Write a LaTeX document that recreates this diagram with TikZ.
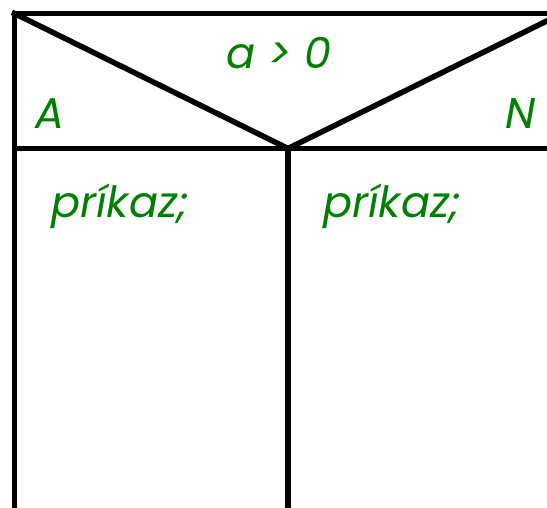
\documentclass[tikz,border=0pt]{standalone}
\usepackage{fontspec}
\setmainfont{Poppins}
\usetikzlibrary{positioning}
\definecolor{nsgreen}{RGB}{0,128,0}
\tikzset{
  ramec/.style={line width=5.5pt,line cap=rect},
  popis/.style={text=nsgreen,font=\fontsize{43}{48}\selectfont\itshape,inner sep=0pt}
}

\begin{document}
\begin{tikzpicture}[x=1pt,y=-1pt]
  \useasboundingbox (0,0) rectangle (547,508);
  \clip (0,0) rectangle (547,508);
  % vonkajsi ramec a podmienka
  \coordinate (lh) at (14.5,13.5); \coordinate (ph) at (562,13.5);
  \coordinate (vrch) at (288,148.5);
  \coordinate (ld) at (14.5,530); \coordinate (pd) at (562,530);
  \draw[ramec] (ld) -- (lh) -- (ph) -- (pd);
  \draw[ramec] (14.5,148.5) -- (562,148.5);
  \draw[ramec] (lh) -- (vrch) -- (ph);
  \draw[ramec] (vrch) -- (288,530);
  % texty
  \node[popis,anchor=base] (podm) at (279,69) {a > 0};
  \node[popis,anchor=base west] (ano) at (35,129) {A};
  \node[popis,anchor=base east] (nie) at (536,129) {N};
  \node[popis,anchor=base west] (prik1) at (51,218) {príkaz;};
  \node[popis,anchor=base west] (prik2) at (323,218) {príkaz;};
\end{tikzpicture}
\end{document}
